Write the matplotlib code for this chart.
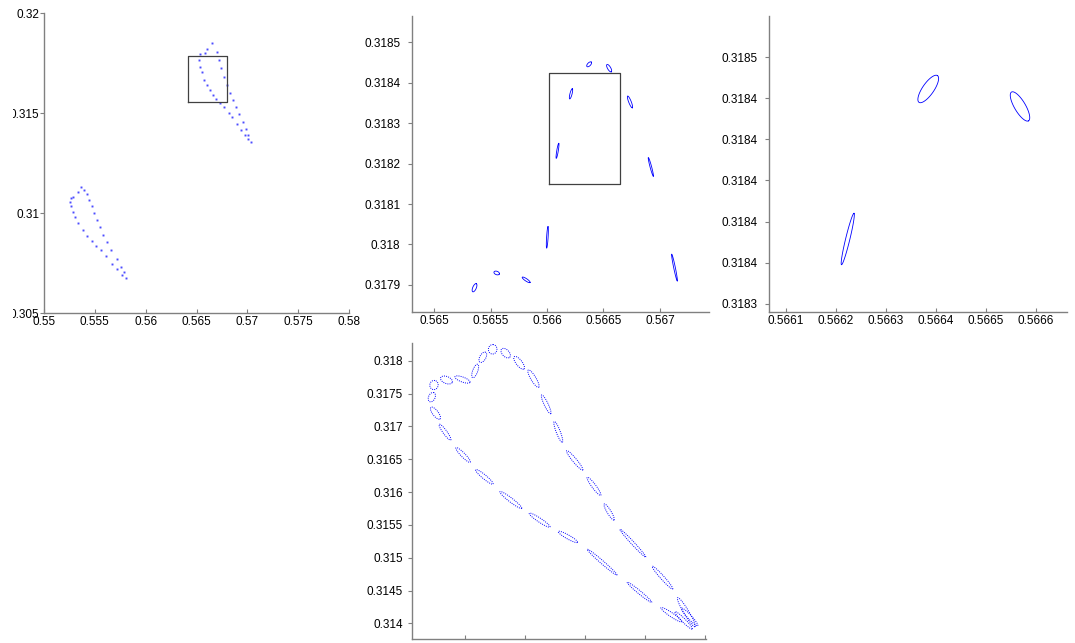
import numpy as np
import matplotlib
matplotlib.use('Agg')
import matplotlib.pyplot as plt
from matplotlib.transforms import Bbox

plt.rcParams['font.family'] = ['Liberation Sans', 'DejaVu Sans']
plt.rcParams['font.size'] = 8.5

BLUE = '#0000ff'
GREY = '#808080'

# --- Overview: ensemble centres along both orbits
orbit_a_x = [0.553640, 0.553315, 0.552882, 0.552626, 0.552558, 0.552626, 0.552823, 0.553049,
             0.553374, 0.553807, 0.554260, 0.554692, 0.555115, 0.555578, 0.556099, 0.556660,
             0.557211, 0.557643, 0.558037, 0.557870, 0.557574, 0.557151, 0.556591, 0.556168,
             0.555833, 0.555509, 0.555184, 0.554919, 0.554692, 0.554456, 0.554200, 0.553935]
orbit_a_y = [0.311283, 0.311067, 0.310817, 0.310767, 0.310567, 0.310350, 0.310067, 0.309783,
             0.309483, 0.309150, 0.308867, 0.308617, 0.308367, 0.308150, 0.307850, 0.307450,
             0.307183, 0.306900, 0.306750, 0.307067, 0.307317, 0.307683, 0.308150, 0.308567,
             0.308900, 0.309283, 0.309650, 0.310017, 0.310350, 0.310650, 0.310950, 0.311150]
orbit_b_x = [0.566493, 0.566985, 0.567248, 0.567411, 0.567707, 0.567969, 0.568297, 0.568559,
             0.568887, 0.569215, 0.569543, 0.569871, 0.570100, 0.570330, 0.570100, 0.569805,
             0.569346, 0.568953, 0.568526, 0.568166, 0.567707, 0.567313, 0.566920, 0.566657,
             0.566330, 0.566002, 0.565739, 0.565510, 0.565346, 0.565247, 0.565346, 0.565838,
             0.566067]
orbit_b_y = [0.318483, 0.318067, 0.317650, 0.317233, 0.316817, 0.316400, 0.315983, 0.315650,
             0.315317, 0.314950, 0.314567, 0.314183, 0.313900, 0.313567, 0.313683, 0.313900,
             0.314150, 0.314450, 0.314783, 0.314983, 0.315283, 0.315483, 0.315683, 0.315900,
             0.316150, 0.316400, 0.316650, 0.317067, 0.317317, 0.317650, 0.317933, 0.317983,
             0.318183]
box_a = [0.564136, 0.567972, 0.315533, 0.317850]  # x0, x1, y0, y1

# --- Detail 1: ellipses near the top of orbit b (major axis end points, minor/major ratio)
mid_x1 = [0.565343, 0.565531, 0.565781, 0.565997, 0.566082, 0.566201, 0.566354, 0.566531, 0.566714, 0.566897, 0.567104]
mid_y1 = [0.317883, 0.317932, 0.317919, 0.317991, 0.318213, 0.318360, 0.318440, 0.318445, 0.318367, 0.318215, 0.317976]
mid_x2 = [0.565374, 0.565578, 0.565850, 0.566009, 0.566104, 0.566224, 0.566392, 0.566569, 0.566755, 0.566941, 0.567153]
mid_y2 = [0.317903, 0.317927, 0.317906, 0.318044, 0.318250, 0.318385, 0.318451, 0.318427, 0.318338, 0.318169, 0.317910]
mid_ratio = [0.4, 0.6, 0.25, 0.07, 0.1, 0.2, 0.5, 0.37, 0.2, 0.08, 0.06]
box_b = [0.566020, 0.566649, 0.318150, 0.318423]

# --- Detail 2
right_x1 = [0.566211, 0.566366, 0.566551]
right_y1 = [0.318399, 0.318478, 0.318483]
right_x2 = [0.566236, 0.566403, 0.566585]
right_y2 = [0.318424, 0.318491, 0.318469]
right_ratio = [0.08, 0.35, 0.33]

# --- Full orbit with uncertainty ellipses
bot_x1 = [0.565467, 0.565412, 0.565433, 0.565572, 0.565850, 0.566178, 0.566583, 0.567072, 0.567555, 0.568038,
          0.568705, 0.569267, 0.569500, 0.569612, 0.569545, 0.569122, 0.568583, 0.568322, 0.568038, 0.567695,
          0.567488, 0.567278, 0.567055, 0.566822, 0.566612, 0.566450, 0.566250, 0.566128, 0.565833, 0.565595]
bot_y1 = [0.317561, 0.317376, 0.317290, 0.317031, 0.316675, 0.316340, 0.316005, 0.315676, 0.315399, 0.315128,
          0.314625, 0.314238, 0.314177, 0.314229, 0.314390, 0.314869, 0.315432, 0.315818, 0.316224, 0.316629,
          0.317074, 0.317478, 0.317858, 0.318061, 0.318178, 0.318102, 0.317976, 0.317741, 0.317756, 0.317741]
bot_x2 = [0.565500, 0.565483, 0.565583, 0.565762, 0.566088, 0.566467, 0.566945, 0.567417, 0.567875, 0.568533,
          0.569112, 0.569612, 0.569788, 0.569878, 0.569833, 0.569462, 0.569012, 0.568483, 0.568262, 0.567962,
          0.567622, 0.567428, 0.567228, 0.566983, 0.566745, 0.566473, 0.566345, 0.566212, 0.566083, 0.565788]
bot_y2 = [0.317698, 0.317513, 0.317112, 0.316792, 0.316453, 0.316122, 0.315752, 0.315467, 0.315234, 0.314736,
          0.314320, 0.314025, 0.313914, 0.313964, 0.313949, 0.314523, 0.315010, 0.315574, 0.315950, 0.316335,
          0.316757, 0.317193, 0.317595, 0.317874, 0.318052, 0.318245, 0.318128, 0.317945, 0.317671, 0.317671]
bot_ratio = [0.9, 0.65, 0.38, 0.2, 0.2, 0.18, 0.15, 0.16, 0.18, 0.08, 0.1, 0.16, 0.15, 0.17, 0.15,
             0.12, 0.08, 0.21, 0.18, 0.16, 0.18, 0.19, 0.25, 0.38, 0.6, 0.9, 0.52, 0.35, 0.31, 0.56]

# --- Tick values and labels
ov_xticks = [0.55, 0.555, 0.56, 0.565, 0.57, 0.575, 0.58]
ov_xlabels = ['0.55', '0.555', '0.56', '0.565', '0.57', '0.575', '0.58']
ov_yticks = [0.305, 0.31, 0.315, 0.32]
ov_ylabels = ['0.305', '0.31', '0.315', '0.32']
mid_xticks = [0.565, 0.5655, 0.566, 0.5665, 0.567]
mid_xlabels = ['0.565', '0.5655', '0.566', '0.5665', '0.567']
mid_yticks = [0.3179, 0.318, 0.3181, 0.3182, 0.3183, 0.3184, 0.3185]
mid_ylabels = ['0.3179', '0.318', '0.3181', '0.3182', '0.3183', '0.3184', '0.3185']
right_xticks = [0.5661, 0.5662, 0.5663, 0.5664, 0.5665, 0.5666]
right_xlabels = ['0.5661', '0.5662', '0.5663', '0.5664', '0.5665', '0.5666']
right_yticks = [0.31838, 0.3184, 0.31842, 0.31844, 0.31846, 0.31848, 0.3185]
right_ylabels = ['0.3183', '0.3184', '0.3184', '0.3184', '0.3184', '0.3184', '0.3185']
bot_xticks = [0.566, 0.567, 0.568, 0.569, 0.57]
bot_xlabels = ['', '', '', '', '']
bot_yticks = [0.314, 0.3145, 0.315, 0.3155, 0.316, 0.3165, 0.317, 0.3175, 0.318]
bot_ylabels = ['0.314', '0.3145', '0.315', '0.3155', '0.316', '0.3165', '0.317', '0.3175', '0.318']


def style_axis(ax, xlim, ylim, xticks, xlabels, yticks, ylabels, ypad):
    """Limits, ticks and a left/bottom-only frame"""
    ax.set_xlim(xlim)
    ax.set_ylim(ylim)
    ax.set_xticks(xticks, xlabels)
    ax.set_yticks(yticks, ylabels)
    for side in ['top', 'right']:
        ax.spines[side].set_visible(False)
    for side in ['left', 'bottom']:
        ax.spines[side].set_color(GREY)
        ax.spines[side].set_linewidth(1.0)
    ax.tick_params(axis='x', direction='in', length=3, width=0.8, color=GREY, pad=2.5, labelcolor='black')
    ax.tick_params(axis='y', direction='out', length=3, width=0.8, color=GREY, pad=ypad, labelcolor='black')


def draw_ellipse(ax, p1, p2, ratio, **kw):
    """Ellipse from the end points of its major axis, built in screen space"""
    t = np.linspace(0, 2 * np.pi, 120)
    a, b = ax.transData.transform([p1, p2])
    c = (a + b) / 2
    u = (b - a) / 2
    v = ratio * np.array([-u[1], u[0]])
    pts = c + np.outer(np.cos(t), u) + np.outer(np.sin(t), v)
    xy = ax.transData.inverted().transform(pts)
    ax.plot(xy[:, 0], xy[:, 1], **kw)


def draw_box(ax, box, **kw):
    x0, x1, y0, y1 = box
    ax.plot([x0, x1, x1, x0, x0], [y0, y0, y1, y1, y0], **kw)


W, H = 1075, 643
fig = plt.figure(figsize=(W / 100, H / 100), dpi=100)
fig.patch.set_facecolor('white')

ax0 = fig.add_axes([44 / W, 1 - 313 / H, 305 / W, 300 / H])
ax1 = fig.add_axes([412 / W, 1 - 312 / H, 297 / W, 296 / H])
ax2 = fig.add_axes([769 / W, 1 - 312 / H, 298 / W, 296 / H])
ax3 = fig.add_axes([411.7 / W, 1 - 639.3 / H, 294.3 / W, 296.6 / H])

style_axis(ax0, (0.55, 0.58), (0.305, 0.32), ov_xticks, ov_xlabels, ov_yticks, ov_ylabels, 0.5)
style_axis(ax1, (0.564805, 0.567434), (0.317833, 0.318565), mid_xticks, mid_xlabels, mid_yticks, mid_ylabels, 5.5)
style_axis(ax2, (0.566066, 0.566662), (0.318376, 0.318520), right_xticks, right_xlabels, right_yticks, right_ylabels, 5)
style_axis(ax3, (0.565112, 0.570017), (0.313757, 0.318274), bot_xticks, bot_xlabels, bot_yticks, bot_ylabels, 3.5)

# --- Overview
ax0.plot(orbit_a_x, orbit_a_y, linestyle='None', marker='s', markersize=1.4, markeredgewidth=0,
         color=BLUE, alpha=0.7)
ax0.plot(orbit_b_x, orbit_b_y, linestyle='None', marker='s', markersize=1.4, markeredgewidth=0,
         color=BLUE, alpha=0.7)
draw_box(ax0, box_a, color='#404040', linewidth=0.9)
# left edge of the canvas trims the longer tick labels
clip = Bbox.from_extents(13, 0, W, H)
for lbl in ax0.get_yticklabels():
    lbl.set_clip_box(clip)
    lbl.set_clip_on(True)

# --- Detail 1
for x1, y1, x2, y2, r in zip(mid_x1, mid_y1, mid_x2, mid_y2, mid_ratio):
    draw_ellipse(ax1, (x1, y1), (x2, y2), r, color=BLUE, linewidth=0.6)
draw_box(ax1, box_b, color='#404040', linewidth=0.9)

# --- Detail 2
for x1, y1, x2, y2, r in zip(right_x1, right_y1, right_x2, right_y2, right_ratio):
    draw_ellipse(ax2, (x1, y1), (x2, y2), r, color=BLUE, linewidth=0.6)

# --- Full orbit
for x1, y1, x2, y2, r in zip(bot_x1, bot_y1, bot_x2, bot_y2, bot_ratio):
    draw_ellipse(ax3, (x1, y1), (x2, y2), r, color=BLUE, linewidth=0.7, linestyle=(0, (1, 1.2)))

fig.savefig('out.png', dpi=100, facecolor='white')
